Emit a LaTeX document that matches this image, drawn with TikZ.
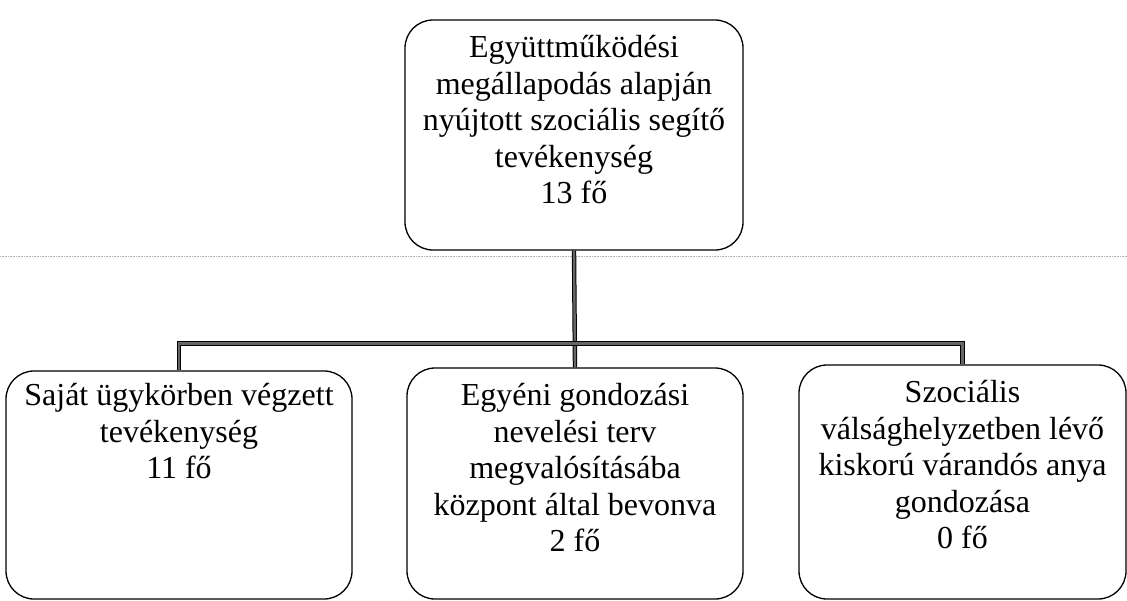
\documentclass[tikz,border=0pt]{standalone}
\usepackage{fontspec}
\setmainfont{Liberation Serif}
\usetikzlibrary{positioning}
\tikzset{box/.style={draw, line width=1.3pt, rounded corners=28pt, inner sep=0pt}}
\tikzset{txt/.style={align=center, inner sep=0pt, font=\fontsize{32}{36.5}\selectfont}}
\tikzset{link/.style={draw=black, double=black!60, double distance=2.4pt, line width=1pt}}

\begin{document}
\begin{tikzpicture}[x=1pt,y=-1pt]
\useasboundingbox (0,0) rectangle (1127,600);
\draw[black!30, densely dotted, line width=0.6pt] (0,256) -- (1127,256);
\node[box, minimum width=338pt, minimum height=230pt] (top) at (574,135) {};
\node[box, minimum width=346pt, minimum height=228pt] (left) at (179,485) {};
\node[box, minimum width=336pt, minimum height=231pt] (mid) at (575,483.5) {};
\node[box, minimum width=327pt, minimum height=234pt] (right) at (962.5,482) {};
\node[txt, below=16pt of top.north] (toptxt) {Együttműködési\\megállapodás alapján\\nyújtott szociális segítő\\tevékenység\\13 fő};
\node[txt, below=13pt of left.north] (lefttxt) {Saját ügykörben végzett\\tevékenység\\11 fő};
\node[txt, below=16pt of mid.north] (midtxt) {Egyéni gondozási\\nevelési terv\\megvalósításába\\központ által bevonva\\2 fő};
\node[txt, below=16pt of right.north] (righttxt) {Szociális\\válsághelyzetben lévő\\kiskorú várandós anya\\gondozása\\0 fő};
\draw[link] (top.south) -- (mid.north);
\draw[link] (left.north) -- ++(0,-27) -| (right.north);
\end{tikzpicture}
\end{document}
